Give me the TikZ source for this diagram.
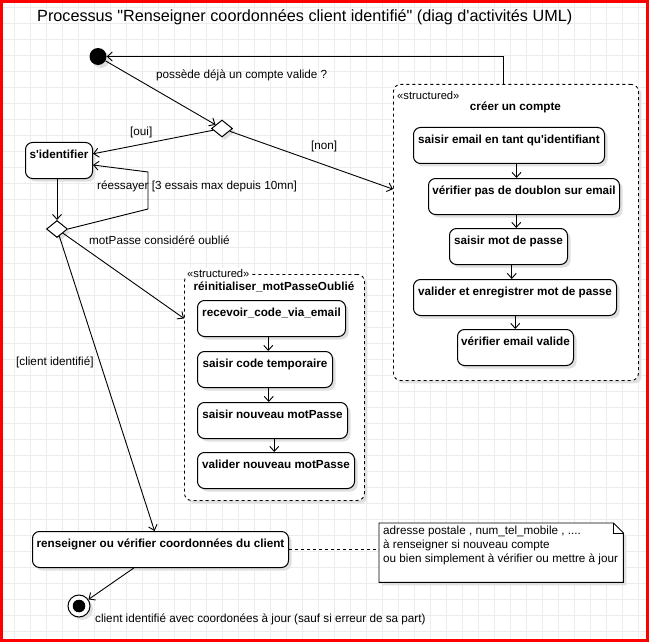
\documentclass[tikz,border=0pt]{standalone}
\usepackage{fontspec}
\newfontfamily\drawio{Liberation Sans}
\usetikzlibrary{arrows.meta,positioning,calc,shapes.geometric,shadows}
\definecolor{grille}{RGB}{236,236,236}
\definecolor{ombregris}{RGB}{224,224,224}
\definecolor{cadre}{RGB}{255,0,0}
\newcommand{\petit}{\drawio\fontsize{11.7}{14}\selectfont}
\newcommand{\stereo}{\drawio\fontsize{11.2}{13}\selectfont}

\tikzset{
  quadrillage/.style={grille, line width=0.8pt},
  ombre/.style={drop shadow={shadow xshift=3pt, shadow yshift=-3pt, fill=ombregris, opacity=1}},
  flux/.style={line width=0.9pt, -{Straight Barb[length=5pt, width=9pt]}},
  action/.style={draw, line width=1pt, rounded corners=7pt, fill=white, ombre,
    font=\petit\bfseries, inner xsep=2pt, inner ysep=0pt,
    text height=15.5pt, text depth=20.5pt, anchor=north west},
  decision/.style={diamond, draw, line width=1pt, fill=white, ombre, inner sep=0pt,
    minimum width=21pt, minimum height=17pt},
  debut/.style={circle, fill=black, inner sep=0pt, minimum size=17pt, ombre},
  fin/.style={circle, draw, line width=1pt, fill=white, inner sep=0pt, minimum size=22pt, ombre,
    path picture={\fill[black] (path picture bounding box.center) circle (6.3pt);}},
  structure/.style={draw, dashed, line width=0.9pt, rounded corners=7pt, fill=white, ombre,
    inner sep=0pt, anchor=north west},
  garde/.style={font=\petit, anchor=west, inner sep=0pt},
}

\begin{document}
\begin{tikzpicture}[x=1pt, y=-1pt]
  \useasboundingbox (0,0) rectangle (649,642);
  % fond quadrille
  \foreach \gx in {14.5,30.5,...,646} {\draw[quadrillage] (\gx,0) -- (\gx,642);}
  \foreach \gy in {7.5,23.5,...,640} {\draw[quadrillage] (0,\gy) -- (649,\gy);}

  \node[font=\drawio\fontsize{16.2}{19}\selectfont, anchor=west, inner sep=0pt] (titre) at (37,17)
    {Processus "Renseigner coordonnées client identifié" (diag d'activités UML)};

  % noeuds de controle
  \node[debut] (debut) at (98,56.5) {};
  \node[decision] (compte) at (222,128.5) {};
  \node[decision] (essai) at (57,229) {};
  \node[fin] (fin) at (79,606) {};

  \node[action, minimum width=67pt] (ident) at (25,142) {s'identifier};

  % sous-activite creer un compte
  \node[structure, minimum width=245pt, minimum height=296pt] (creer) at (393,84) {};
  \node[garde, font=\stereo] (creerst) at (397,95) {«structured»};
  \node[font=\petit\bfseries, inner sep=0pt] (creertit) at (515.5,107) {créer un compte};
  \node[action, minimum width=191pt] (c1) at (413,127) {saisir email en tant qu'identifiant};
  \node[action, minimum width=191pt] (c2) at (428,178) {vérifier pas de doublon sur email};
  \node[action, minimum width=118pt] (c3) at (449,228) {saisir mot de passe};
  \node[action, minimum width=203pt] (c4) at (413,279) {valider et enregistrer mot de passe};
  \node[action, minimum width=116pt] (c5) at (457,329) {vérifier email valide};

  % sous-activite mot de passe oublie
  \node[structure, minimum width=180pt, minimum height=226pt] (reinit) at (184,274) {};
  \node[garde, font=\stereo, fill=white, inner sep=1pt] (reinitst) at (186,273) {«structured»};
  \node[font=\petit\bfseries, inner sep=0pt] (reinittit) at (274,287) {réinitialiser\_motPasseOublié};
  \node[action, minimum width=148pt] (r1) at (197,300) {recevoir\_code\_via\_email};
  \node[action, minimum width=135pt] (r2) at (197,351) {saisir code temporaire};
  \node[action, minimum width=150pt] (r3) at (197,402) {saisir nouveau motPasse};
  \node[action, minimum width=157pt] (r4) at (197,452) {valider nouveau motPasse};

  \node[action, minimum width=256pt] (rens) at (32,531) {renseigner ou vérifier coordonnées du client};

  % note
  \node[inner sep=0pt, minimum width=244pt, minimum height=59pt, anchor=north west] (note) at (379,523) {};
  \draw[line width=0.9pt, fill=white, ombre] (note.north west) -- ([xshift=-10pt]note.north east)
    -- ([yshift=-10pt]note.north east) -- (note.south east) -- (note.south west) -- cycle;
  \draw[line width=0.9pt] ([xshift=-10pt]note.north east) -- ++(0,10) -- ++(10,0);
  \node[font=\petit, align=left, anchor=north west, inner sep=0pt] (notetxt) at ([shift={(4,3)}]note.north west)
    {adresse postale , num\_tel\_mobile , ....\\à renseigner si nouveau compte\\ou bien simplement à vérifier ou mettre à jour};

  % flux
  \draw[flux] (debut) -- (compte);
  \draw[flux] (compte) -- (ident);
  \draw[flux] (compte) -- (creer);
  \draw[flux] ([xshift=-12.5pt]creer.north) |- (debut);
  \draw[flux] (ident.south -| essai.north) -- (essai.north);
  \draw[flux] (essai.east) -- ++(80,-20) -- ++(0,-37) -- ([yshift=-4.5pt]ident.east);
  \draw[flux] (essai) -- ([yshift=69pt]reinit.west);
  \draw[flux] (essai) -- (rens);
  \draw[flux] (rens) -- (fin);
  \draw[dashed, line width=0.9pt] (rens.east) -- (rens.east -| note.west);
  \foreach \a/\b in {c1/c2,c2/c3,c3/c4,c4/c5,r1/r2,r2/r3,r3/r4} {
    \coordinate (m) at ($(\a.center)!0.5!(\b.center)$);
    \draw[flux] (\a.south -| m) -- (\b.north -| m);
  }

  % gardes et commentaires
  \node[garde] (lcompte) at (156,75) {possède déjà un compte valide ?};
  \node[garde] (loui) at (130,132) {[oui]};
  \node[garde] (lnon) at (311,146) {[non]};
  \node[garde] (lessai) at (97,186) {réessayer [3 essais max depuis 10mn]};
  \node[garde] (loubli) at (89,240) {motPasse considéré oublié};
  \node[garde] (lclient) at (16,362) {[client identifié]};
  \node[garde] (lfin) at (95,619) {client identifié avec coordonées à jour (sauf si erreur de sa part)};

  \draw[cadre, line width=3pt] (1.5,1.5) rectangle (647.5,640.5);
\end{tikzpicture}
\end{document}
